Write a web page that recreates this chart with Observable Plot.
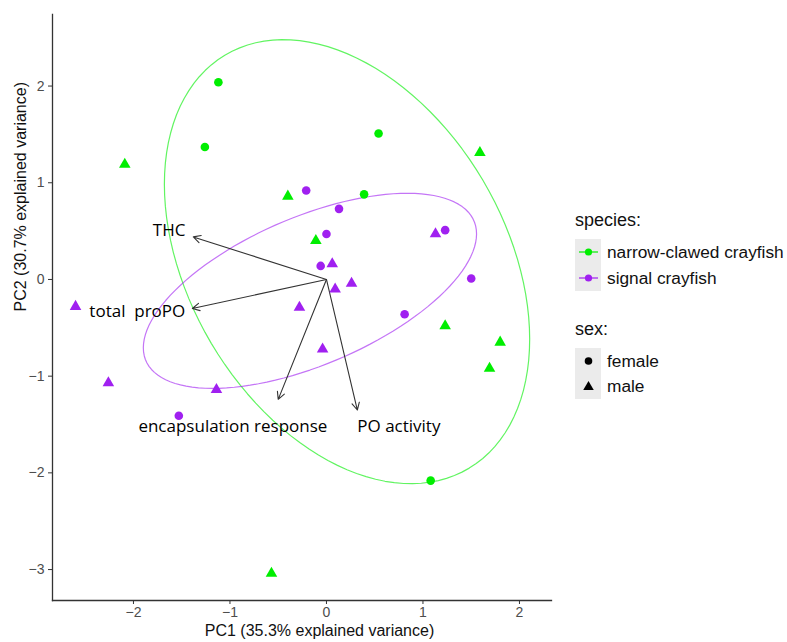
<!DOCTYPE html>
<html><head><meta charset="utf-8">
<script src="https://cdn.jsdelivr.net/npm/d3@7"></script>
<script src="https://cdn.jsdelivr.net/npm/@observablehq/plot@0.6"></script>
<style>
body{margin:0;background:#fff;font-family:"Liberation Sans",Arial,sans-serif;}
#wrap{position:relative;width:787px;height:642px;}
.lg{position:absolute;color:#111;white-space:nowrap;}
.lt{font-size:18px;line-height:20px;}
.lbox{position:absolute;background:#ebebeb;}
.li{font-size:17.3px;line-height:20px;}
</style></head>
<body><div id="wrap"></div>
<script>
// ---- data ----
const speciesNames = ["narrow-clawed crayfish", "signal crayfish"];
const sexNames = ["female", "male"];
const speciesColors = ["#00ee00", "#a020f0"];

// narrow-clawed crayfish
const ncfPC1 = [-1.12, -1.26, 0.54, 0.39, 1.08, -2.09, -0.40, -0.11, 1.59, 1.23, 1.80, 1.69, -0.57];
const ncfPC2 = [2.04, 1.37, 1.51, 0.88, -2.08, 1.19, 0.86, 0.40, 1.31, -0.48, -0.65, -0.92, -3.04];
const ncfSex = ["female","female","female","female","female","male","male","male","male","male","male","male","male"];
// signal crayfish
const sigPC1 = [-0.21, 0.13, 0.00, -0.06, 1.23, 1.50, 0.81, -1.53, 0.06, 0.26, 0.09, -0.28, 1.13, -2.60, -0.04, -2.26, -1.14];
const sigPC2 = [0.92, 0.73, 0.47, 0.14, 0.51, 0.01, -0.36, -1.41, 0.16, -0.04, -0.10, -0.29, 0.47, -0.28, -0.72, -1.07, -1.14];
const sigSex = ["female","female","female","female","female","female","female","female","male","male","male","male","male","male","male","male","male"];

// variable loadings (arrows) and label positions
const varNames = ["THC", "total\u00a0 proPO", "encapsulation response", "PO activity"];
const loadPC1 = [-1.38, -1.39, -0.50, 0.32];
const loadPC2 = [0.44, -0.30, -1.24, -1.35];
const labelPC1 = [-1.63, -1.96, -0.97, 0.75];
const labelPC2 = [0.51, -0.33, -1.52, -1.52];

const xTicks = [-2, -1, 0, 1, 2];
const yTicks = [-3, -2, -1, 0, 1, 2];
const xTitle = "PC1 (35.3% explained variance)";
const yTitle = "PC2 (30.7% explained variance)";
const ellipseProb = 0.68;

// ---- build tables ----
const points = [
  ...ncfPC1.map((v, i) => ({pc1: v, pc2: ncfPC2[i], species: speciesNames[0], sex: ncfSex[i]})),
  ...sigPC1.map((v, i) => ({pc1: v, pc2: sigPC2[i], species: speciesNames[1], sex: sigSex[i]}))
];
const vars = varNames.map((n, i) => ({name: n, x2: loadPC1[i], y2: loadPC2[i], lx: labelPC1[i], ly: labelPC2[i]}));

// normal-probability ellipse per group (as ggbiplot does)
const ed = Math.sqrt(-2 * Math.log(1 - ellipseProb));
const ellipses = [];
for (const sp of speciesNames) {
  const g = points.filter(d => d.species === sp);
  const n = g.length;
  const mx = d3.mean(g, d => d.pc1), my = d3.mean(g, d => d.pc2);
  const sxx = d3.sum(g, d => (d.pc1 - mx) ** 2) / (n - 1);
  const syy = d3.sum(g, d => (d.pc2 - my) ** 2) / (n - 1);
  const sxy = d3.sum(g, d => (d.pc1 - mx) * (d.pc2 - my)) / (n - 1);
  const a = Math.sqrt(sxx), b = sxy / a, c = Math.sqrt(syy - b * b);
  const N = 120;
  for (let k = 0; k <= N; k++) {
    const t = -Math.PI + 2 * Math.PI * k / N;
    ellipses.push({species: sp, pc1: mx + ed * a * Math.cos(t), pc2: my + ed * (b * Math.cos(t) + c * Math.sin(t))});
  }
}

const fmt = d => d < 0 ? "\u2212" + Math.abs(d) : String(d);
const chart = Plot.plot({
  width: 787, height: 642,
  marginLeft: 52, marginRight: 236, marginTop: 14, marginBottom: 42,
  style: {fontFamily: "'Liberation Sans', Arial, sans-serif", background: "#fff"},
  x: {domain: [-2.839, 2.332], ticks: xTicks, label: null},
  y: {domain: [-3.32, 2.74], ticks: yTicks, label: null},
  color: {domain: speciesNames, range: speciesColors},
  symbol: {domain: sexNames, range: ["circle", "triangle"]},
  marks: [
    Plot.axisX({ticks: xTicks, tickSize: 4, tickPadding: 3, fontSize: 14, fill: "#4d4d4d", stroke: "#333", label: null, tickFormat: fmt}),
    Plot.axisY({ticks: yTicks, tickSize: 4, tickPadding: 4, fontSize: 14, fill: "#4d4d4d", stroke: "#333", label: null, tickFormat: fmt}),
    Plot.frame({anchor: "left", stroke: "#333", strokeWidth: 1.3}),
    Plot.frame({anchor: "bottom", stroke: "#333", strokeWidth: 1.3}),
    Plot.line(ellipses, {x: "pc1", y: "pc2", z: "species", stroke: "species", strokeWidth: 1.2, strokeOpacity: 0.62}),
    Plot.arrow(vars, {x1: 0, y1: 0, x2: "x2", y2: "y2", stroke: "#333", strokeWidth: 1.1, headLength: 11, headAngle: 55}),
    Plot.dot(points, {x: "pc1", y: "pc2", fill: "species", symbol: "sex", r: 4.3, stroke: "none"}),
    Plot.text(vars, {x: "lx", y: "ly", text: "name", fontSize: 17, fill: "#000", fontFamily: "'Open Sans', sans-serif"}),
    Plot.text([xTitle], {frameAnchor: "bottom", dx: 17.5, dy: 35, fontSize: 16, fill: "#111"}),
    Plot.text([yTitle], {frameAnchor: "left", rotate: -90, dx: -32, dy: 4, fontSize: 16, fill: "#111"})
  ]
});
const wrap = document.getElementById("wrap");
wrap.appendChild(chart);

// ---- legend (HTML) ----
function add(html) { wrap.insertAdjacentHTML("beforeend", html); }
add(`<div class="lg lt" style="left:575px;top:210px">species:</div>`);
add(`<div class="lbox" style="left:575px;top:239px;width:26px;height:52px"></div>`);
speciesNames.forEach((s, i) => {
  const cy = 252 + i * 26;
  add(`<svg class="lg" style="left:575px;top:${cy - 13}px" width="26" height="26"><line x1="4" x2="23" y1="13" y2="13" stroke="${speciesColors[i]}" stroke-width="1.2"/><circle cx="13.5" cy="13" r="3.6" fill="${speciesColors[i]}"/></svg>`);
  add(`<div class="lg li" style="left:607px;top:${cy - 10}px">${s}</div>`);
});
add(`<div class="lg lt" style="left:575px;top:319px">sex:</div>`);
add(`<div class="lbox" style="left:575px;top:348px;width:26px;height:51px"></div>`);
sexNames.forEach((s, i) => {
  const cy = 361 + i * 24.5;
  const glyph = i === 0
    ? `<circle cx="13.5" cy="13" r="3.8" fill="#000"/>`
    : `<path d="${d3.symbol(d3.symbolTriangle, 48)()}" transform="translate(13.5,14)" fill="#000"/>`;
  add(`<svg class="lg" style="left:575px;top:${cy - 13}px" width="26" height="26">${glyph}</svg>`);
  add(`<div class="lg li" style="left:607px;top:${cy - 10}px">${s}</div>`);
});
</script>
</body></html>
